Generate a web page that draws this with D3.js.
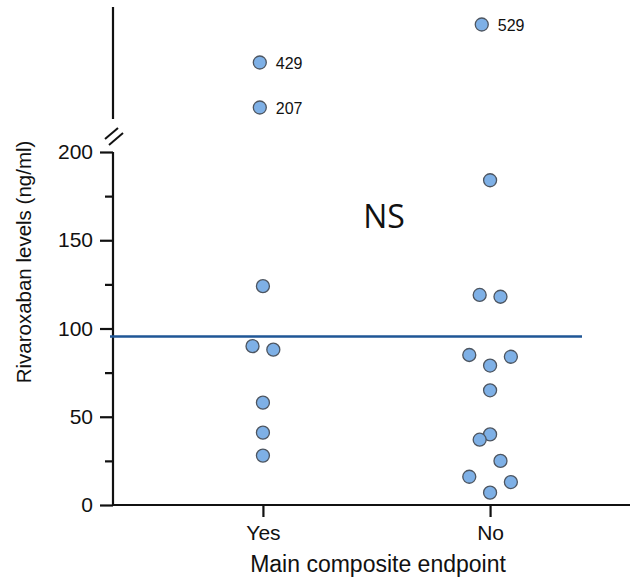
<!doctype html>
<html lang='en'>
<head>
  <meta charset='UTF-8'>
  <title>Rivaroxaban levels</title>
  <style>
    body { margin: 0; background: #fff; }
    svg text { font-family: 'Liberation Sans', Arial, sans-serif; fill: #111; }
    .axis path, .axis line { stroke: #111; stroke-width: 2.2; }
  </style>
</head>
<body>
<script src='https://d3js.org/d3.v7.min.js'></script>
<script>
  // groups on the x axis
  const groups = ['Yes', 'No']

  // values below the axis break (ng/ml)
  const yesValues = [124, 90, 88, 58, 41, 28]
  const noValues = [184, 119, 118, 85, 84, 79, 65, 40, 37, 25, 16, 13, 7]
  // side-by-side slot for overlapping dots (in dot widths)
  const yesSlots = [0, -1, 1, 0, 0, 0]
  const noSlots = [0, -1, 1, -2, 2, 0, 0, 0, -1, 1, -2, 2, 0]

  // outliers above the break
  const outlierGroups = ['Yes', 'Yes', 'No']
  const outlierValues = [429, 207, 529]
  const outlierSlots = [-0.3, -0.3, -0.8]

  const yTicks = [0, 25, 50, 75, 100, 125, 150, 175, 200]
  const cutoff = 95.5
  const annotation = 'NS'

  const w = 634
  const h = 580
  const axisX = 113
  const slotStep = 10.4

  const svg = d3.select('body')
    .append('svg')
    .attr('width', w)
    .attr('height', h)

  const xScale = d3.scalePoint()
    .domain(groups)
    .range([axisX, 640])
    .padding(0.66)

  const yScale = d3.scaleLinear()
    .domain([0, 200])
    .range([505, 152])

  // upper (broken) segment, outliers placed by hand in the original
  const yTop = d3.scaleLinear()
    .domain([207, 429, 529])
    .range([107.5, 62.5, 24.5])

  /******** y axis ********/
  const yAxis = svg.append('g')
    .attr('class', 'axis')
    .attr('transform', `translate(${axisX},0)`)
    .call(d3.axisLeft(yScale)
      .tickValues(yTicks)
      .tickSize(13)
      .tickSizeOuter(0)
      .tickPadding(7)
      .tickFormat(d => d % 50 === 0 ? d : ''))
  yAxis.selectAll('.tick line')
    .attr('x2', d => d % 50 === 0 ? -13 : -8)
  yAxis.selectAll('.tick text')
    .style('font-size', '21px')
  yAxis.select('.domain').attr('d', `M0,${yScale(0)}V${yScale(200)}`)

  // upper axis piece and break marks
  svg.append('line')
    .attr('x1', axisX).attr('x2', axisX)
    .attr('y1', 7).attr('y2', 119)
    .attr('stroke', '#111').attr('stroke-width', 2.2)
  svg.append('line')
    .attr('x1', 105).attr('y1', 139).attr('x2', 118).attr('y2', 128)
    .attr('stroke', '#111').attr('stroke-width', 2)
  svg.append('line')
    .attr('x1', 109).attr('y1', 145).attr('x2', 123).attr('y2', 133)
    .attr('stroke', '#111').attr('stroke-width', 2)

  /******** x axis ********/
  const xAxis = svg.append('g')
    .attr('class', 'axis')
    .attr('transform', `translate(0,${yScale(0)})`)
    .call(d3.axisBottom(xScale)
      .tickSize(12)
      .tickSizeOuter(0)
      .tickPadding(8))
  xAxis.select('.domain').attr('d', `M${axisX},0H630`)
  xAxis.selectAll('.tick text')
    .style('font-size', '21px')

  /******** axis titles ********/
  svg.append('text')
    .attr('transform', `translate(31,262) rotate(-90)`)
    .attr('text-anchor', 'middle')
    .style('font-size', '20.5px')
    .text('Rivaroxaban levels (ng/ml)')

  svg.append('text')
    .attr('x', 378)
    .attr('y', 572)
    .attr('text-anchor', 'middle')
    .style('font-size', '23px')
    .text('Main composite endpoint')

  /******** threshold line ********/
  svg.append('line')
    .attr('x1', 110)
    .attr('x2', 582)
    .attr('y1', yScale(cutoff))
    .attr('y2', yScale(cutoff))
    .attr('stroke', '#1f5696')
    .attr('stroke-width', 2.6)

  svg.append('text')
    .attr('x', 384)
    .attr('y', 228)
    .attr('text-anchor', 'middle')
    .style('font-family', "'Liberation Sans Narrow', 'Open Sans', sans-serif")
    .style('font-size', '32px')
    .text(annotation)

  /******** dots ********/
  const points = []
  yesValues.forEach((v, i) => points.push({ g: 'Yes', v: v, s: yesSlots[i] }))
  noValues.forEach((v, i) => points.push({ g: 'No', v: v, s: noSlots[i] }))

  const dotStyle = sel => sel
    .attr('r', 6.5)
    .attr('fill', '#7eb0e6')
    .attr('stroke', '#4d5560')
    .attr('stroke-width', 1.3)

  svg.selectAll('circle.low')
    .data(points)
    .enter()
    .append('circle')
    .attr('class', 'low')
    .attr('cx', d => xScale(d.g) + d.s * slotStep)
    .attr('cy', d => yScale(d.v))
    .call(dotStyle)

  const outliers = outlierValues.map((v, i) => ({ g: outlierGroups[i], v: v, s: outlierSlots[i] }))

  svg.selectAll('circle.high')
    .data(outliers)
    .enter()
    .append('circle')
    .attr('class', 'high')
    .attr('cx', d => xScale(d.g) + d.s * slotStep)
    .attr('cy', d => yTop(d.v))
    .call(dotStyle)

  svg.selectAll('text.outlier')
    .data(outliers)
    .enter()
    .append('text')
    .attr('class', 'outlier')
    .attr('x', d => xScale(d.g) + d.s * slotStep + 16)
    .attr('y', d => yTop(d.v) + 6)
    .style('font-size', '16px')
    .text(d => d.v)
</script>
</body>
</html>
